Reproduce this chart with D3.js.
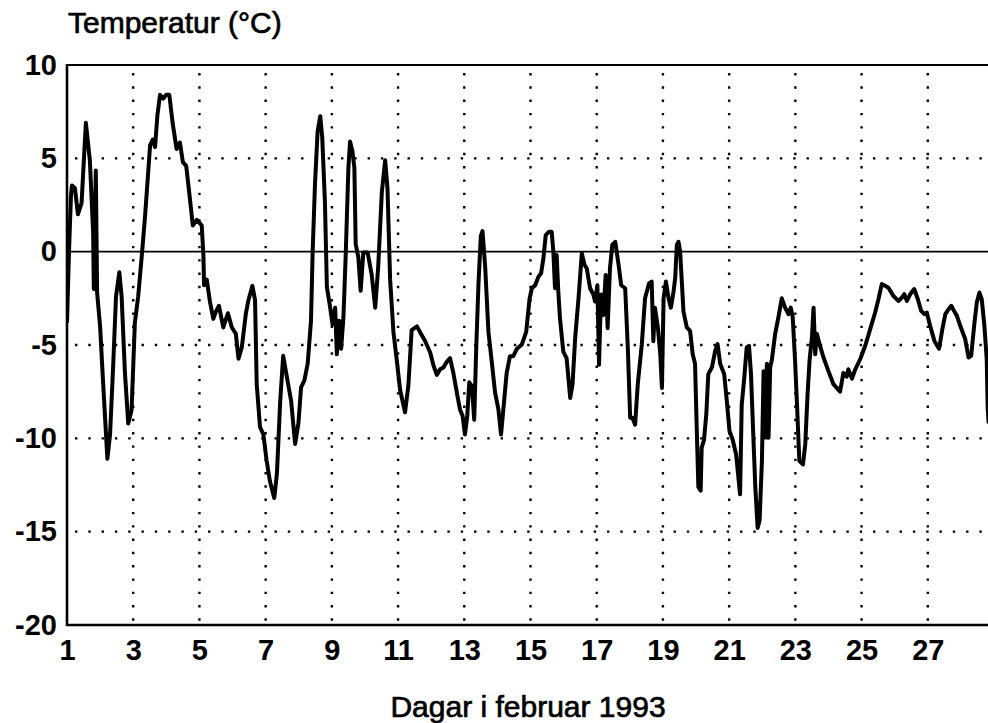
<!DOCTYPE html>
<html>
<head>
  <script src="https://d3js.org/d3.v7.min.js"></script>
  <style>
    body { margin: 0; background: #fff; }
    svg { font-family: "Liberation Sans", Arial, sans-serif; }
    .grid { stroke: #000; stroke-width: 2.4px; stroke-dasharray: 2.4,10.9; fill: none; }
    .temp-line { stroke: #000; stroke-width: 4px; fill: none; stroke-linejoin: round; }
    .label { font-size: 30px; fill: #000; stroke: #000; stroke-width: 0.7px; }
  </style>
</head>
<body>
<div id="chart"></div>
<script>
// hourly-ish temperature readings, February 1993 (day of month, deg C)
var days = [1.00, 1.06, 1.12, 1.15, 1.24, 1.33, 1.44, 1.57, 1.69, 1.79, 1.81, 1.87, 1.91, 2.00, 2.09, 2.22, 2.30, 2.39, 2.48, 2.58,
  2.65, 2.75, 2.85, 2.95, 3.05, 3.15, 3.26, 3.36, 3.43, 3.51, 3.59, 3.66, 3.73, 3.81, 3.91, 3.99, 4.09, 4.19, 4.31, 4.41,
  4.50, 4.60, 4.69, 4.80, 4.92, 5.07, 5.12, 5.14, 5.22, 5.32, 5.42, 5.50, 5.59, 5.72, 5.86, 5.98, 6.10, 6.18, 6.28, 6.40,
  6.48, 6.60, 6.68, 6.73, 6.83, 6.93, 7.03, 7.13, 7.26, 7.34, 7.44, 7.53, 7.64, 7.77, 7.89, 7.99, 8.07, 8.17, 8.27, 8.37,
  8.42, 8.49, 8.57, 8.65, 8.71, 8.79, 8.85, 8.95, 9.02, 9.10, 9.15, 9.22, 9.28, 9.35, 9.42, 9.50, 9.55, 9.62, 9.68, 9.72,
  9.80, 9.87, 9.95, 10.08, 10.20, 10.31, 10.40, 10.51, 10.61, 10.68, 10.76, 10.86, 10.96, 11.06, 11.21, 11.31, 11.41, 11.57, 11.66, 11.82,
  11.97, 12.07, 12.17, 12.27, 12.37, 12.47, 12.57, 12.67, 12.79, 12.87, 12.95, 13.02, 13.09, 13.15, 13.23, 13.30, 13.36, 13.43, 13.50, 13.55,
  13.63, 13.73, 13.83, 13.93, 14.03, 14.11, 14.18, 14.28, 14.38, 14.48, 14.59, 14.74, 14.87, 14.97, 15.04, 15.14, 15.24, 15.32, 15.39, 15.46,
  15.56, 15.64, 15.69, 15.74, 15.79, 15.84, 15.89, 15.99, 16.09, 16.20, 16.27, 16.35, 16.45, 16.55, 16.63, 16.70, 16.80, 16.90, 16.95, 17.02,
  17.07, 17.13, 17.20, 17.27, 17.33, 17.40, 17.47, 17.56, 17.66, 17.74, 17.86, 17.94, 18.01, 18.08, 18.16, 18.24, 18.36, 18.46, 18.58, 18.66,
  18.71, 18.76, 18.85, 18.92, 18.97, 19.02, 19.09, 19.17, 19.24, 19.32, 19.37, 19.42, 19.47, 19.52, 19.62, 19.72, 19.82, 19.90, 19.97, 20.02,
  20.07, 20.14, 20.17, 20.24, 20.31, 20.37, 20.48, 20.58, 20.65, 20.73, 20.85, 20.93, 21.01, 21.11, 21.21, 21.28, 21.33, 21.38, 21.45, 21.53,
  21.60, 21.66, 21.72, 21.79, 21.86, 21.92, 21.99, 22.04, 22.09, 22.14, 22.19, 22.24, 22.29, 22.39, 22.49, 22.59, 22.69, 22.79, 22.86, 22.92,
  22.99, 23.05, 23.12, 23.23, 23.30, 23.37, 23.43, 23.50, 23.55, 23.60, 23.65, 23.73, 23.85, 24.00, 24.15, 24.25, 24.35, 24.45, 24.55, 24.60,
  24.71, 24.81, 24.96, 25.11, 25.26, 25.41, 25.51, 25.61, 25.71, 25.81, 25.96, 26.11, 26.22, 26.29, 26.37, 26.47, 26.59, 26.70, 26.80, 26.90,
  26.97, 27.07, 27.20, 27.34, 27.44, 27.53, 27.63, 27.71, 27.79, 27.88, 27.98, 28.13, 28.23, 28.31, 28.41, 28.48, 28.56, 28.63, 28.71, 28.78,
  28.81, 28.84];

var temps = [-3.8, 0.0, 3.0, 3.55, 3.4, 2.0, 2.6, 6.9, 4.9, 1.0, -2.0, 4.35, -2.2, -4.0, -7.0, -11.1, -9.8, -6.3, -2.4, -1.1,
  -2.4, -6.5, -9.2, -8.5, -3.8, -2.4, -0.2, 1.95, 3.7, 5.7, 6.0, 5.6, 7.3, 8.4, 8.2, 8.4, 8.4, 6.9, 5.5, 5.85,
  4.8, 4.6, 3.2, 1.4, 1.7, 1.4, -0.2, -1.8, -1.5, -2.7, -3.6, -3.2, -2.9, -4.06, -3.3, -4.06, -4.4, -5.74, -5.13, -3.35,
  -2.6, -1.83, -2.6, -7.1, -9.4, -9.77, -11.2, -12.3, -13.2, -11.9, -8.0, -5.58, -6.7, -8.0, -10.3, -9.2, -7.27, -6.9, -6.0, -3.7,
  0.0, 3.6, 6.45, 7.26, 6.1, 2.7, -1.9, -3.0, -3.9, -3.0, -5.5, -3.7, -5.2, -3.5, -0.1, 4.5, 5.9, 5.4, 4.5, 0.4,
  -0.3, -2.1, -0.05, -0.05, -1.2, -3.0, -0.8, 3.2, 4.9, 3.4, -1.5, -4.3, -5.8, -7.4, -8.6, -7.2, -4.2, -4.0, -4.3, -4.8,
  -5.4, -6.1, -6.6, -6.3, -6.2, -5.9, -5.7, -6.5, -7.7, -8.45, -8.8, -9.8, -8.8, -7.0, -7.2, -9.0, -5.2, -1.66, 0.84, 1.1,
  -0.77, -4.3, -5.9, -7.55, -8.45, -9.8, -8.45, -6.5, -5.6, -5.6, -5.2, -4.97, -4.3, -2.55, -1.96, -1.8, -1.34, -1.16, -0.36, 0.89,
  1.07, 1.07, 0.0, -1.96, -0.18, -2.14, -3.57, -5.35, -5.7, -7.84, -7.1, -4.6, -2.5, -0.09, -0.7, -0.9, -1.96, -2.3, -2.67, -1.8,
  -6.06, -2.3, -3.4, -1.25, -4.1, -0.9, 0.36, 0.53, -0.7, -1.8, -1.96, -5.17, -8.9, -8.9, -9.27, -7.1, -5.0, -2.5, -1.7, -1.6,
  -4.8, -3.0, -4.1, -5.5, -7.3, -2.5, -1.6, -2.5, -3.0, -2.14, -1.43, 0.36, 0.53, 0.0, -3.2, -4.06, -4.24, -5.5, -6.0, -9.4,
  -12.6, -12.8, -10.5, -10.1, -8.7, -6.56, -6.2, -5.3, -4.95, -6.0, -6.56, -8.0, -9.6, -10.1, -10.85, -12.1, -13.0, -8.2, -6.9, -5.13,
  -5.04, -6.56, -9.4, -12.6, -14.8, -14.4, -11.2, -6.4, -9.96, -6.0, -9.96, -6.2, -5.8, -4.4, -3.5, -2.5, -3.0, -3.35, -3.0, -3.5,
  -5.8, -8.2, -11.2, -11.4, -10.3, -7.6, -5.8, -4.6, -3.0, -5.5, -4.4, -4.95, -5.67, -6.4, -7.1, -7.3, -7.5, -6.5, -6.7, -6.3,
  -6.8, -6.3, -5.75, -5.04, -4.15, -3.26, -2.55, -1.74, -1.83, -1.93, -2.37, -2.64, -2.46, -2.28, -2.64, -2.28, -2.0, -2.55, -3.17, -3.35,
  -3.26, -3.97, -4.78, -5.2, -4.15, -3.35, -3.08, -2.9, -3.17, -3.44, -3.97, -4.68, -5.67, -5.58, -3.8, -2.73, -2.19, -2.55, -3.97, -5.75,
  -8.4, -9.2];

var xTicks = [1, 3, 5, 7, 9, 11, 13, 15, 17, 19, 21, 23, 25, 27];
var yTicks = [10, 5, 0, -5, -10, -15, -20];
var yGrid = [5, -5, -10, -15];

var width = 988;
var height = 723;
var plotLeft = 67, plotTop = 65, plotBottom = 625, plotRight = 994;

var data = days.map(function(d, i) { return {day: d, temp: temps[i]}; });

/* Scales */
var xScale = d3.scaleLinear().domain([1, 29]).range([plotLeft, plotRight]);
var yScale = d3.scaleLinear().domain([-20, 10]).range([plotBottom, plotTop]);

var svg = d3.select("#chart").append("svg")
  .attr("width", width)
  .attr("height", height);

svg.append("clipPath").attr("id", "clip")
  .append("rect")
  .attr("x", plotLeft).attr("y", 0)
  .attr("width", width - plotLeft).attr("height", height);

/* dotted grid */
svg.append("g").selectAll("line")
  .data(xTicks.slice(1)).enter()
  .append("line")
  .attr("class", "grid")
  .attr("x1", d => xScale(d)).attr("x2", d => xScale(d))
  .attr("y1", yScale(10) + 8).attr("y2", yScale(-20));

svg.append("g").selectAll("line")
  .data(yGrid).enter()
  .append("line")
  .attr("class", "grid")
  .attr("x1", plotLeft + 8).attr("x2", width)
  .attr("y1", d => yScale(d)).attr("y2", d => yScale(d));

/* zero line and frame */
svg.append("line")
  .attr("x1", plotLeft).attr("x2", width)
  .attr("y1", yScale(0)).attr("y2", yScale(0))
  .style("stroke", "#000").style("stroke-width", 1.6);

svg.append("line")
  .attr("x1", plotLeft).attr("x2", width)
  .attr("y1", yScale(10)).attr("y2", yScale(10))
  .style("stroke", "#000").style("stroke-width", 2);

/* temperature line */
var line = d3.line()
  .x(d => xScale(d.day))
  .y(d => yScale(d.temp));

svg.append("path")
  .datum(data)
  .attr("class", "temp-line")
  .attr("clip-path", "url(#clip)")
  .attr("d", line);

/* axes */
var xAxis = d3.axisBottom(xScale).tickValues(xTicks).tickSize(0).tickPadding(14);
var yAxis = d3.axisLeft(yScale).tickValues(yTicks).tickSize(0).tickPadding(10)
  .tickFormat(d => String(d));

var gx = svg.append("g")
  .attr("transform", `translate(0, ${plotBottom})`)
  .call(xAxis);
gx.select(".domain").remove();
svg.append("line")
  .attr("x1", plotLeft - 1).attr("x2", width)
  .attr("y1", plotBottom).attr("y2", plotBottom)
  .style("stroke", "#000").style("stroke-width", 2.6);

var gy = svg.append("g")
  .attr("transform", `translate(${plotLeft}, 0)`)
  .call(yAxis);
gy.select(".domain").remove();
svg.append("line")
  .attr("x1", plotLeft).attr("x2", plotLeft)
  .attr("y1", plotTop - 1).attr("y2", plotBottom + 1)
  .style("stroke", "#000").style("stroke-width", 2.6);

svg.selectAll(".tick text")
  .style("font-family", "'Liberation Sans', Arial, sans-serif")
  .style("font-size", "29px")
  .style("font-weight", "bold")
  .style("fill", "#000");

/* titles */
svg.append("text")
  .attr("class", "label")
  .attr("x", 68)
  .attr("y", 33)
  .text("Temperatur (°C)");

svg.append("text")
  .attr("class", "label")
  .attr("x", 528)
  .attr("y", 717)
  .attr("text-anchor", "middle")
  .text("Dagar i februar 1993");
</script>
</body>
</html>
